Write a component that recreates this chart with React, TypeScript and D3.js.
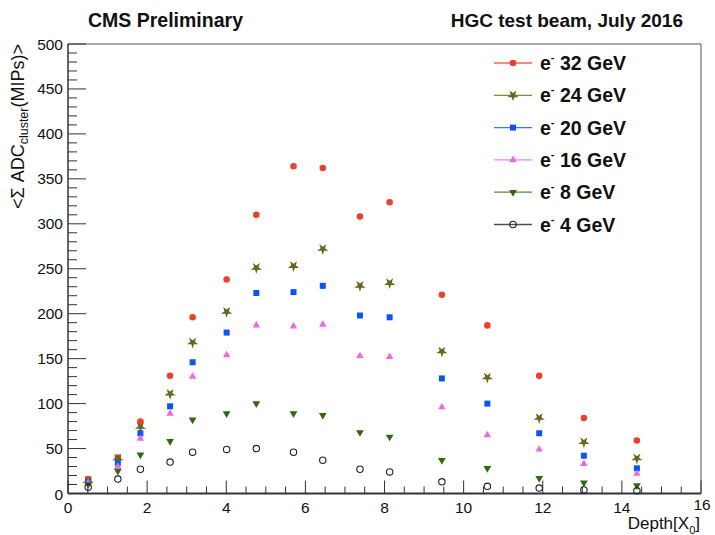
import React from "react";
import * as d3 from "d3";

const depth = [0.51, 1.26, 1.83, 2.58, 3.15, 4.01, 4.76, 5.7, 6.44, 7.38, 8.13, 9.45, 10.6, 11.91, 13.04, 14.38];
const e32 = [16, 40, 80, 131, 196, 238, 310, 364, 362, 308, 324, 221, 187, 131, 84, 59];
const e24 = [14, 39, 74, 111, 168, 202, 251, 253, 272, 231, 234, 158, 129, 84, 57, 39];
const e20 = [13, 34, 67, 97, 146, 179, 223, 224, 231, 198, 196, 128, 100, 67, 42, 28];
const e16 = [12, 30, 61, 89, 130, 154, 187, 186, 188, 153, 152, 96, 65, 49, 33, 22];
const e8 = [10, 25, 43, 58, 82, 89, 100, 89, 87, 68, 63, 37, 28, 17, 12, 9];
const e4 = [7, 16, 27, 35, 46, 49, 50, 46, 37, 27, 24, 13, 8, 6, 4, 3];

const seriesNames = ["32 GeV", "24 GeV", "20 GeV", "16 GeV", "8 GeV", "4 GeV"];
const seriesValues = [e32, e24, e20, e16, e8, e4];
const seriesColors = ["#ee412c", "#6b651a", "#0b55f5", "#ee66ee", "#2f6a12", "#222222"];
const seriesMarkers = ["circle", "star", "square", "triangle", "triangleDown", "openCircle"];

const xMajor = [0, 2, 4, 6, 8, 10, 12, 14, 16];
const yMajor = [0, 50, 100, 150, 200, 250, 300, 350, 400, 450, 500];

const W = 715, H = 535;
const L = 68, R = 701, T = 44, B = 493.5;
const font = "'Liberation Sans', Arial, Helvetica, sans-serif";

function Marker({ kind, x, y, color }: { kind: string; x: number; y: number; color: string }) {
  if (kind === "circle") return <circle cx={x} cy={y} r={3.3} fill={color} />;
  if (kind === "openCircle") return <circle cx={x} cy={y} r={3.2} fill="none" stroke={color} strokeWidth={1.1} />;
  let sym: any = d3.symbolSquare;
  let size = 36;
  let rot = 0;
  if (kind === "star") { sym = d3.symbolStar; size = 40; rot = 180; }
  if (kind === "triangle") { sym = d3.symbolTriangle; size = 24; }
  if (kind === "triangleDown") { sym = d3.symbolTriangle; size = 26; rot = 180; }
  const p = d3.symbol().type(sym).size(size)() || "";
  return <path d={p} transform={`translate(${x},${y}) rotate(${rot})`} fill={color} />;
}

export default function App() {
  const x = d3.scaleLinear().domain([0, 16]).range([L, R]);
  const y = d3.scaleLinear().domain([0, 500]).range([B, T]);
  const xMinor = d3.range(0, 16.01, 0.5);
  const yMinor = d3.range(0, 500.1, 10);
  const axisColor = "#333";
  const legendY = [63, 95.3, 127.6, 159.9, 192.2, 224.5];

  return (
    <div style={{ position: "absolute", left: 0, top: 0 }}>
      <svg width={W} height={H} style={{ display: "block", background: "#fff" }} fontFamily={font}>
        <rect x={0} y={0} width={W} height={H} fill="#fff" />
        {/* frame */}
        <line x1={L} y1={T} x2={R} y2={T} stroke="#555" strokeWidth={1} />
        <line x1={R} y1={T} x2={R} y2={B} stroke="#555" strokeWidth={1} />
        {/* y ticks */}
        {yMinor.map((v) => (
          <line key={"ym" + v} x1={L} x2={L + (v % 50 === 0 ? 18 : 9)} y1={y(v)} y2={y(v)} stroke={axisColor} strokeWidth={1} />
        ))}
        {/* x ticks */}
        {xMinor.map((v) => (
          <line key={"xm" + v} y1={B} y2={B - (v % 2 === 0 ? 13 : 7)} x1={x(v)} x2={x(v)} stroke={axisColor} strokeWidth={1} />
        ))}
        <line x1={L} y1={T} x2={L} y2={B} stroke={axisColor} strokeWidth={1.5} />
        <line x1={L} y1={B} x2={R} y2={B} stroke={axisColor} strokeWidth={1.8} />
        {/* y labels */}
        {yMajor.map((v) => (
          <text key={"yl" + v} x={L - 5} y={y(v) + (v === 0 ? 6 : 5.5)} textAnchor="end" fontSize={15.5} fill="#111">
            {v}
          </text>
        ))}
        {xMajor.map((v) => (
          <text key={"xl" + v} x={x(v) + (v === 16 ? 1 : 0)} y={v === 16 ? 509.5 : 513} textAnchor="middle" fontSize={15.5} fill="#111">
            {v}
          </text>
        ))}
        {/* axis titles */}
        <text x={700} y={528.5} textAnchor="end" fontSize={17} fill="#111">
          Depth[X<tspan fontSize={11} dy={5}>0</tspan><tspan dy={-5}>]</tspan>
        </text>
        <text transform={`translate(24,44) rotate(-90)`} textAnchor="end" fontSize={18} fill="#111">
          {"<Σ ADC"}<tspan fontSize={12.5} dy={4}>cluster</tspan><tspan dy={-4}>{"(MIPs)>"}</tspan>
        </text>
        {/* titles */}
        <text x={88} y={27} fontSize={19.5} fontWeight="bold" fill="#111">CMS Preliminary</text>
        <text x={683} y={27} textAnchor="end" fontSize={19} fontWeight="bold" fill="#111">HGC test beam, July 2016</text>
        {/* data */}
        {seriesValues.map((vals, si) => (
          <g key={"s" + si}>
            {vals.map((v, i) => (
              <Marker key={i} kind={seriesMarkers[si]} x={x(depth[i])} y={y(v)} color={seriesColors[si]} />
            ))}
          </g>
        ))}
        {/* legend */}
        {seriesNames.map((n, i) => (
          <g key={"lg" + i}>
            <line x1={494} x2={532} y1={legendY[i]} y2={legendY[i]} stroke={seriesColors[i]} strokeWidth={1.3} opacity={0.8} />
            <Marker kind={seriesMarkers[i]} x={513} y={legendY[i]} color={seriesColors[i]} />
            <text x={540} y={legendY[i] + 7} fontSize={19.5} fontWeight="bold" fill="#111">
              e<tspan fontSize={11} dy={-9}>-</tspan><tspan dy={9}>{" " + n}</tspan>
            </text>
          </g>
        ))}
      </svg>
    </div>
  );
}
